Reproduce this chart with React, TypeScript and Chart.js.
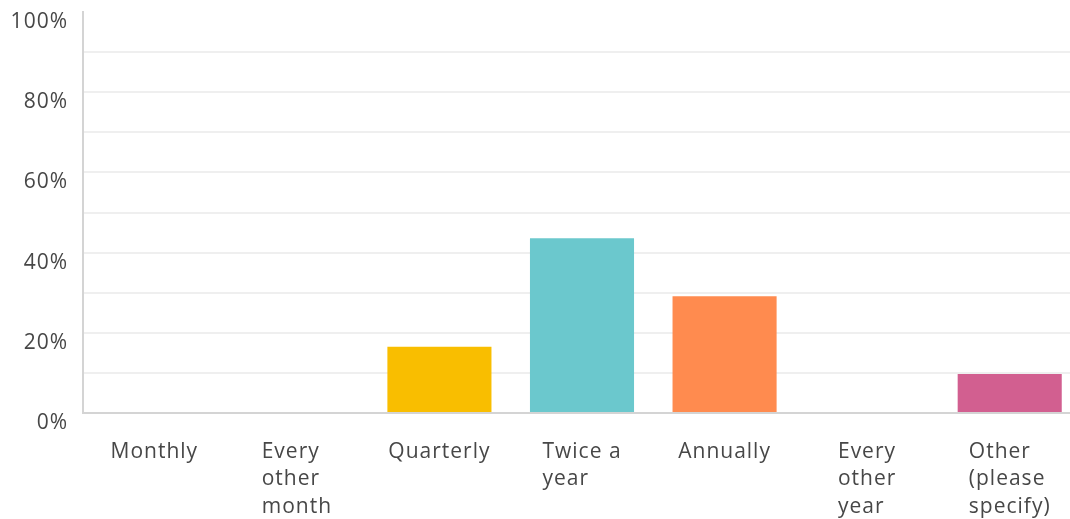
import React, { useEffect, useRef } from "react";
import { Chart, registerables } from "chart.js";

Chart.register(...registerables);

const categories: string[][] = [
  ["Monthly"],
  ["Every", "other", "month"],
  ["Quarterly"],
  ["Twice a", "year"],
  ["Annually"],
  ["Every", "other", "year"],
  ["Other", "(please", "specify)"],
];
const values: number[] = [0, 0, 16.5, 43.6, 29.1, 0, 9.7];
const barColors: string[] = ["#F9BE00", "#F9BE00", "#F9BE00", "#6BC8CD", "#FF8B4F", "#D25F90", "#D25F90"];
const yTicks: number[] = [0, 20, 40, 60, 80, 100];

const FONT = "'Open Sans', sans-serif";
const FONT_SIZE = 21;
const TEXT_COLOR = "#474747";

const xLabelPlugin = {
  id: "xLabelsLeftBlock",
  beforeDraw(chart: any) {
    try {
      chart.ctx.letterSpacing = "1px";
    } catch (e) {}
  },
  afterDraw(chart: any) {
    const ctx = chart.ctx;
    const xs = chart.scales.x;
    const bottom = chart.chartArea.bottom;
    ctx.save();
    try {
      ctx.letterSpacing = "1px";
    } catch (e) {}
    ctx.font = `${FONT_SIZE}px ${FONT}`;
    ctx.fillStyle = TEXT_COLOR;
    ctx.textAlign = "left";
    ctx.textBaseline = "middle";
    categories.forEach((lines, i) => {
      const cx = xs.getPixelForTick(i);
      const w = Math.max(...lines.map((l) => ctx.measureText(l).width));
      lines.forEach((l, j) => {
        ctx.fillText(l, cx - w / 2, bottom + 39 + j * 27.5);
      });
    });
    ctx.restore();
  },
};

export default function App() {
  const ref = useRef<HTMLCanvasElement | null>(null);
  useEffect(() => {
    if (!ref.current) return;
    const chart = new Chart(ref.current, {
      type: "bar",
      data: {
        labels: categories.map((c) => c.join(" ")),
        datasets: [
          {
            data: values,
            backgroundColor: barColors,
            borderWidth: 0,
            barPercentage: 0.73,
            categoryPercentage: 1,
          },
        ],
      },
      options: {
        animation: false,
        responsive: false,
        layout: { padding: { top: 12, right: 0, bottom: 0, left: 0 } },
        plugins: { legend: { display: false }, tooltip: { enabled: false } },
        scales: {
          x: {
            grid: { display: false, drawTicks: false },
            border: { display: true, color: "#d4d4d4", width: 2 },
            ticks: { display: false },
            afterFit: (s: any) => {
              s.height = 106;
              s.paddingLeft = 0;
              s.paddingRight = 0;
            },
          },
          y: {
            min: 0,
            max: 100,
            ticks: {
              stepSize: 10,
              labelOffset: 10,
              padding: 15,
              color: TEXT_COLOR,
              font: { family: FONT, size: FONT_SIZE },
              callback: (v: any) => (yTicks.includes(Number(v)) ? `${v}%` : ""),
            },
            grid: {
              drawTicks: false,
              lineWidth: 2,
              color: (c: any) => (c.tick && (c.tick.value === 100 || c.tick.value === 0) ? "rgba(0,0,0,0)" : "#efefef"),
            },
            border: { display: true, color: "#d4d4d4", width: 2 },
            afterFit: (s: any) => {
              s.width = 83;
              s.paddingTop = 0;
              s.paddingBottom = 0;
            },
          },
        },
      },
      plugins: [xLabelPlugin],
    });
    return () => chart.destroy();
  }, []);
  return (
    <div style={{ position: "fixed", left: 0, top: 0, width: 1070, height: 519, overflow: "hidden", background: "#fff" }}>
      <canvas ref={ref} width={1081} height={519} style={{ display: "block" }} />
    </div>
  );
}
